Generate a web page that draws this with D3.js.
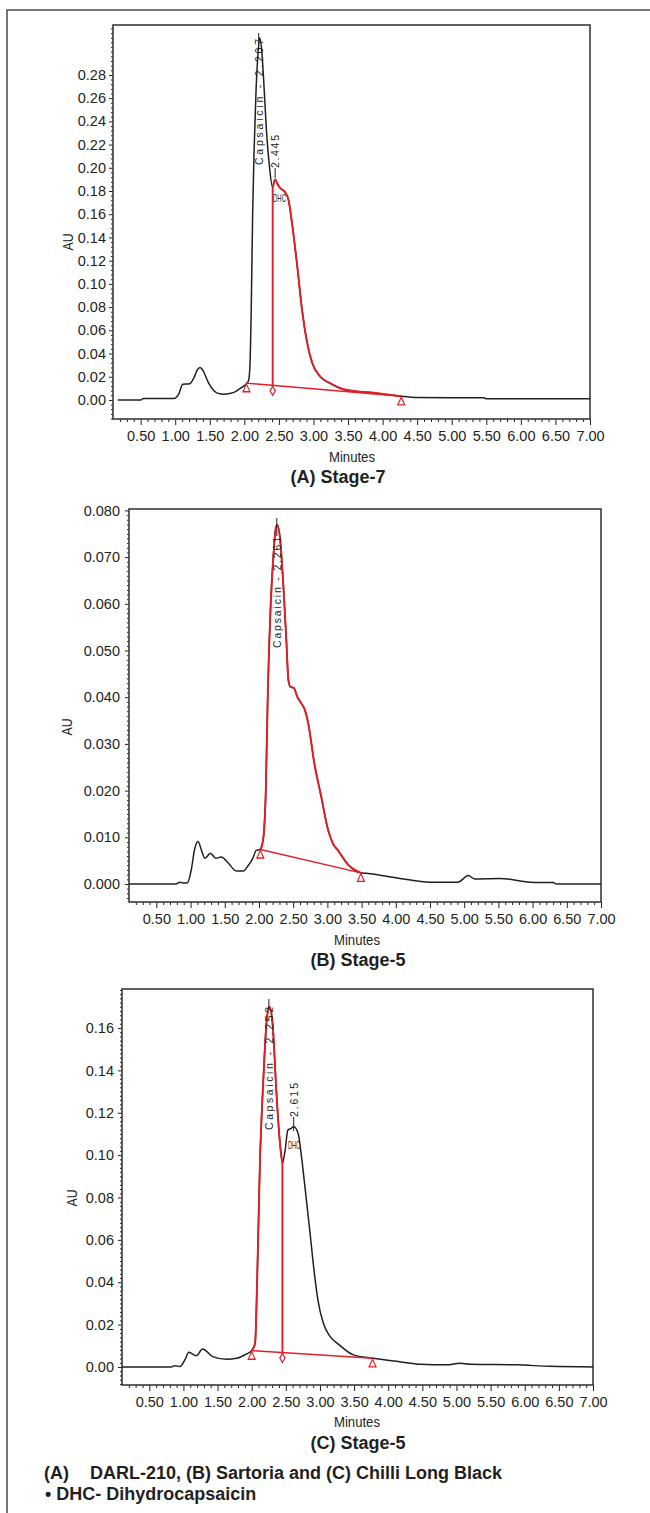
<!DOCTYPE html>
<html lang="en">
<head>
<meta charset="utf-8">
<title>Capsaicin chromatograms</title>
<script src="https://cdnjs.cloudflare.com/ajax/libs/d3/7.8.5/d3.min.js"></script>
<style>
  body { margin: 0; padding: 0; background: #fff; }
  svg text { font-family: "Liberation Sans", Arial, Helvetica, sans-serif; fill: #231f20; }
  .trace { fill: none; stroke: #231f20; stroke-width: 1.5; stroke-linejoin: round; }
  .red { fill: none; stroke: #e31e26; stroke-width: 1.9; stroke-linejoin: round; }
  .redthin { fill: none; stroke: #e31e26; stroke-width: 1.4; }
  .mark { fill: #fff; stroke: #e31e26; stroke-width: 1.2; }
  .box { fill: none; stroke: #3a3a3a; stroke-width: 1.6; }
  .outer { fill: none; stroke: #4a4a4a; stroke-width: 1.5; }
  .tick line { stroke: #231f20; }
</style>
</head>
<body>
<svg id="chart" width="650" height="1513"></svg>
<script>

// ---- data ----
var xTicks = [0.5, 1, 1.5, 2, 2.5, 3, 3.5, 4, 4.5, 5, 5.5, 6, 6.5, 7];

// (A) Stage-7
var minutesA = [0.17, 0.50, 0.54, 0.98, 1.05, 1.11, 1.21, 1.27, 1.32, 1.36, 1.40, 1.48, 1.56, 1.62, 1.70, 1.84, 1.94, 2.03,
  2.06, 2.08, 2.10, 2.12, 2.14, 2.17, 2.20, 2.22, 2.25, 2.28, 2.32, 2.36, 2.41, 2.445, 2.48, 2.52, 2.59, 2.64, 2.69,
  2.76, 2.83, 2.90, 2.98, 3.10, 3.24, 3.43, 3.65, 3.87, 4.05, 4.27, 4.48, 5.00, 5.47, 5.50, 7.00];
var auA = [0.0000, 0.0000, 0.0012, 0.0012, 0.0050, 0.0136, 0.0140, 0.0190, 0.0260, 0.0280, 0.0255, 0.0150, 0.0080, 0.0057, 0.0050, 0.0063, 0.0100, 0.0140,
  0.0165, 0.0280, 0.0800, 0.1600, 0.2130, 0.2680, 0.3000, 0.3120, 0.3020, 0.2750, 0.2320, 0.2030, 0.1830, 0.1900, 0.1860, 0.1825, 0.1790, 0.1720, 0.1520,
  0.1180, 0.0800, 0.0520, 0.0320, 0.0200, 0.0144, 0.0092, 0.0072, 0.0063, 0.0048, 0.0032, 0.0022, 0.0020, 0.0019, 0.0010, 0.0010];
var yTicksA = [0, 0.02, 0.04, 0.06, 0.08, 0.10, 0.12, 0.14, 0.16, 0.18, 0.20, 0.22, 0.24, 0.26, 0.28];
var peakTimesA = [2.207, 2.445];
var peakTextA = ["Capsaicin - 2.207", "2.445"];
var baseStartA = [2.03, 0.0145], baseEndA = [4.27, 0.0032];
var dropsA = [2.41];
var redSpanA = [2.41, 4.27];

// (B) Stage-5
var minutesB = [0.10, 0.79, 0.84, 0.90, 0.95, 1.01, 1.06, 1.11, 1.16, 1.21, 1.29, 1.37, 1.45, 1.55, 1.67, 1.77, 1.84, 1.91, 1.96, 2.02,
  2.06, 2.10, 2.13, 2.17, 2.21, 2.25, 2.27, 2.31, 2.36, 2.40, 2.43, 2.46, 2.51, 2.56, 2.62, 2.67, 2.72, 2.81, 2.91, 3.01, 3.08, 3.16,
  3.30, 3.49, 3.57, 4.06, 4.50, 4.91, 5.06, 5.15, 5.52, 5.96, 6.30, 6.35, 7.00];
var auB = [0.0000, 0.0000, 0.0004, 0.0002, 0.0002, 0.0030, 0.0075, 0.0091, 0.0072, 0.0055, 0.0066, 0.0055, 0.0058, 0.0045, 0.0028, 0.0028, 0.0039, 0.0055, 0.0072, 0.0074,
  0.0094, 0.0201, 0.0415, 0.0594, 0.0701, 0.0765, 0.0769, 0.0737, 0.0630, 0.0522, 0.0437, 0.0422, 0.0420, 0.0401, 0.0387, 0.0373, 0.0344, 0.0258, 0.0187, 0.0116, 0.0087, 0.0071,
  0.0042, 0.0024, 0.0023, 0.0012, 0.0004, 0.0004, 0.0018, 0.0011, 0.0012, 0.0004, 0.0003, 0.0000, 0.0000];
var yTicksB = [0, 0.01, 0.02, 0.03, 0.04, 0.05, 0.06, 0.07, 0.08];
var peakTimesB = [2.261];
var peakTextB = ["Capsaicin - 2.261"];
var baseStartB = [2.02, 0.0074], baseEndB = [3.49, 0.0024];
var dropsB = [];
var redSpanB = [2.02, 3.49];

// (C) Stage-5
var minutesC = [0.10, 0.82, 0.87, 0.95, 1.02, 1.08, 1.19, 1.28, 1.43, 1.63, 1.78, 1.92, 2.00,
  2.05, 2.08, 2.12, 2.17, 2.22, 2.26, 2.31, 2.36, 2.41, 2.45, 2.49, 2.53, 2.58, 2.615, 2.68, 2.73, 2.78, 2.85, 2.93, 2.97,
  3.05, 3.15, 3.27, 3.49, 3.78, 4.17, 4.47, 4.86, 5.05, 5.20, 5.88, 6.37, 7.00];
var auC = [0.0000, 0.0000, 0.0006, 0.0002, 0.0033, 0.0069, 0.0053, 0.0085, 0.0049, 0.0036, 0.0041, 0.0061, 0.0077,
  0.0112, 0.0410, 0.0961, 0.1354, 0.1637, 0.1700, 0.1605, 0.1307, 0.1071, 0.0961, 0.1024, 0.1118, 0.1126, 0.1135, 0.1102, 0.0992, 0.0850, 0.0646, 0.0410, 0.0316,
  0.0206, 0.0143, 0.0108, 0.0057, 0.0041, 0.0025, 0.0013, 0.0010, 0.0018, 0.0013, 0.0010, 0.0003, 0.0000];
var yTicksC = [0, 0.02, 0.04, 0.06, 0.08, 0.10, 0.12, 0.14, 0.16];
var peakTimesC = [2.252, 2.615];
var peakTextC = ["Capsaicin - 2.252", "2.615"];
var baseStartC = [2.00, 0.0077], baseEndC = [3.77, 0.0041];
var dropsC = [2.45];
var redSpanC = [2.00, 2.45];

// ---- layout ----
var svg = d3.select("#chart");
var xDomain = [0.1, 7.0];

// outer frame (cut at right and bottom)
svg.append("path").attr("class", "outer").attr("d", "M7,1513V10H650");

var panels = [
  { t: minutesA, v: auA, yTicks: yTicksA, fmt: ".2f", minor: 0.004,
    left: 113, right: 590, top: 25, bottom: 419, yDomain: [-0.0164, 0.323], pad: 3,
    peaks: peakTimesA, peakText: peakTextA,
    labelY: [165, 168], labelLen: [126, 33], tickLine: [[33, 44], [168, 178]],
    dhc: { x: 273, y: 202, len: 13 },
    b0: baseStartA, b1: baseEndA, drops: dropsA, red: redSpanA,
    au: [68, 242], minutes: [352, 462], title: "(A) Stage-7", titlePos: [338, 483] },
  { t: minutesB, v: auB, yTicks: yTicksB, fmt: ".3f", minor: 0.001,
    left: 129, right: 601, top: 509, bottom: 902, yDomain: [-0.00385, 0.0803], pad: 5,
    peaks: peakTimesB, peakText: peakTextB,
    labelY: [648], labelLen: [111], tickLine: [[518, 536]],
    dhc: null,
    b0: baseStartB, b1: baseEndB, drops: dropsB, red: redSpanB,
    au: [67, 727], minutes: [357, 945], title: "(B) Stage-5", titlePos: [358, 966] },
  { t: minutesC, v: auC, yTicks: yTicksC, fmt: ".2f", minor: 0.002,
    left: 122, right: 593, top: 989, bottom: 1385, yDomain: [-0.0085, 0.1784], pad: 4,
    peaks: peakTimesC, peakText: peakTextC,
    labelY: [1130, 1117], labelLen: [123, 34], tickLine: [[999, 1010], [1117, 1131]],
    dhc: { x: 288, y: 1149, len: 12 },
    b0: baseStartC, b1: baseEndC, drops: dropsC, red: redSpanC,
    au: [72, 1198], minutes: [357, 1427], title: "(C) Stage-5", titlePos: [358, 1449] }
];

panels.forEach(drawPanel);

function drawPanel(p) {
  var g = svg.append("g");
  var x = d3.scaleLinear().domain(xDomain).range([p.left, p.right]);
  var y = d3.scaleLinear().domain(p.yDomain).range([p.bottom, p.top]);
  var pts = p.t.map(function(d, i) { return [d, p.v[i]]; });

  // x axis: minor every 0.1, major every 0.5
  var xMinor = d3.range(2, 71).filter(function(k) { return k % 5 !== 0; }).map(function(k) { return k / 10; });
  g.append("g")
    .attr("transform", "translate(0," + p.bottom + ")")
    .call(d3.axisBottom(x).tickValues(xMinor).tickSize(3).tickFormat(""))
    .call(function(s) { s.select(".domain").remove(); });
  g.append("g")
    .attr("transform", "translate(0," + p.bottom + ")")
    .call(d3.axisBottom(x).tickValues(xTicks).tickSize(6).tickPadding(6).tickFormat(d3.format(".2f")))
    .call(function(s) { s.select(".domain").remove(); s.selectAll("text").attr("font-size", 14.5); });

  // y axis: labelled majors + dense minor ticks
  var k0 = Math.ceil(p.yDomain[0] / p.minor), k1 = Math.floor(p.yDomain[1] / p.minor);
  var yMinor = d3.range(k0, k1 + 1).map(function(k) { return k * p.minor; })
    .filter(function(v) { return !p.yTicks.some(function(t) { return Math.abs(t - v) < 1e-9; }); });
  g.append("g")
    .attr("transform", "translate(" + p.left + ",0)")
    .call(d3.axisLeft(y).tickValues(yMinor).tickSize(2).tickFormat(""))
    .call(function(s) { s.select(".domain").remove(); });
  g.append("g")
    .attr("transform", "translate(" + p.left + ",0)")
    .call(d3.axisLeft(y).tickValues(p.yTicks).tickSize(4).tickPadding(p.pad).tickFormat(d3.format(p.fmt)))
    .call(function(s) { s.select(".domain").remove(); s.selectAll("text").attr("font-size", 14.5); });

  // frame
  g.append("rect").attr("class", "box")
    .attr("x", p.left).attr("y", p.top)
    .attr("width", p.right - p.left).attr("height", p.bottom - p.top);

  var line = d3.line()
    .x(function(d) { return x(d[0]); })
    .y(function(d) { return y(d[1]); })
    .curve(d3.curveMonotoneX);

  g.append("path").attr("class", "trace").attr("d", line(pts));
  g.append("path").attr("class", "red")
    .attr("d", line(pts.filter(function(d) { return d[0] >= p.red[0] - 1e-9 && d[0] <= p.red[1] + 1e-9; })));

  // integration baseline
  g.append("line").attr("class", "redthin")
    .attr("x1", x(p.b0[0])).attr("y1", y(p.b0[1]))
    .attr("x2", x(p.b1[0])).attr("y2", y(p.b1[1]));

  var tri = d3.symbol(d3.symbolTriangle, 26);
  [p.b0, p.b1].forEach(function(b) {
    g.append("path").attr("class", "mark").attr("d", tri())
      .attr("transform", "translate(" + x(b[0]) + "," + (y(b[1]) + 6) + ") scale(0.9,1.15)");
  });

  // drop lines between peaks
  var baseAt = d3.scaleLinear().domain([p.b0[0], p.b1[0]]).range([p.b0[1], p.b1[1]]);
  var dia = d3.symbol(d3.symbolDiamond, 24);
  p.drops.forEach(function(t) {
    var top = pts.find(function(d) { return Math.abs(d[0] - t) < 1e-9; });
    var yb = y(baseAt(t));
    g.append("line").attr("class", "red")
      .attr("x1", x(t)).attr("x2", x(t))
      .attr("y1", y(top[1])).attr("y2", yb + 1);
    g.append("path").attr("class", "mark").attr("d", dia())
      .attr("transform", "translate(" + x(t) + "," + (yb + 5.5) + ")");
  });

  // peak labels
  p.peaks.forEach(function(t, i) {
    var px = x(t);
    g.append("line")
      .attr("x1", px).attr("x2", px)
      .attr("y1", p.tickLine[i][0]).attr("y2", p.tickLine[i][1])
      .attr("stroke", "#231f20").attr("stroke-width", 1);
    g.append("text")
      .attr("transform", "translate(" + (px + 4) + "," + p.labelY[i] + ") rotate(-90)")
      .attr("font-size", 10.5)
      .attr("textLength", p.labelLen[i])
      .attr("lengthAdjust", "spacing")
      .text(p.peakText[i]);
  });
  if (p.dhc) {
    g.append("text")
      .attr("x", p.dhc.x).attr("y", p.dhc.y)
      .attr("font-size", 10.5)
      .attr("textLength", p.dhc.len)
      .attr("lengthAdjust", "spacingAndGlyphs")
      .text("DHC");
  }

  // axis titles
  g.append("text")
    .attr("transform", "translate(" + (p.au[0] + 5) + "," + p.au[1] + ") rotate(-90)")
    .attr("text-anchor", "middle")
    .attr("font-size", 15)
    .attr("textLength", 17)
    .attr("lengthAdjust", "spacingAndGlyphs")
    .text("AU");
  g.append("text")
    .attr("x", p.minutes[0]).attr("y", p.minutes[1])
    .attr("text-anchor", "middle")
    .attr("font-size", 15)
    .attr("textLength", 46)
    .attr("lengthAdjust", "spacingAndGlyphs")
    .text("Minutes");
  g.append("text")
    .attr("x", p.titlePos[0]).attr("y", p.titlePos[1])
    .attr("text-anchor", "middle")
    .attr("font-size", 18)
    .attr("font-weight", "bold")
    .text(p.title);
}

// footnote
svg.append("text").attr("x", 44).attr("y", 1479)
  .attr("font-size", 18).attr("font-weight", "bold").text("(A)");
svg.append("text").attr("x", 90).attr("y", 1479)
  .attr("font-size", 18).attr("font-weight", "bold")
  .text("DARL-210, (B) Sartoria and (C) Chilli Long Black");
svg.append("text").attr("x", 45).attr("y", 1500)
  .attr("font-size", 18).attr("font-weight", "bold")
  .text("\u2022 DHC- Dihydrocapsaicin");

</script>
</body>
</html>
